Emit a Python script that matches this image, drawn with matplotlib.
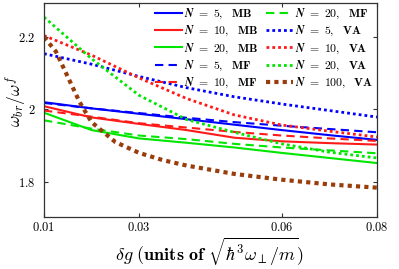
import matplotlib
matplotlib.use("Agg")
import matplotlib.pyplot as plt
import numpy as np

plt.rcParams['mathtext.fontset'] = 'cm'
plt.rcParams['font.family'] = 'DejaVu Serif'

x = [0.01, 0.02, 0.03, 0.04, 0.05, 0.06, 0.07, 0.08]
x_fine = [0.01, 0.0125, 0.015, 0.0175, 0.02, 0.025, 0.03, 0.035, 0.04, 0.05, 0.06, 0.07, 0.08]

mb5 = [2.020, 2.003, 1.988, 1.973, 1.958, 1.943, 1.929, 1.916]
mb10 = [2.009, 1.978, 1.960, 1.943, 1.922, 1.912, 1.907, 1.903]
mb20 = [1.991, 1.943, 1.920, 1.908, 1.895, 1.880, 1.866, 1.852]
mf5 = [2.018, 2.003, 1.990, 1.977, 1.965, 1.955, 1.946, 1.937]
mf10 = [1.997, 1.980, 1.962, 1.950, 1.938, 1.928, 1.920, 1.913]
mf20 = [1.970, 1.947, 1.928, 1.918, 1.905, 1.895, 1.887, 1.879]
va5 = [2.154, 2.125, 2.091, 2.060, 2.035, 2.015, 1.997, 1.979]
va10 = [2.204, 2.150, 2.087, 2.030, 1.985, 1.957, 1.940, 1.924]
va20 = [2.255, 2.140, 2.039, 1.972, 1.937, 1.905, 1.882, 1.866]
va100 = [2.200, 2.160, 2.090, 2.020, 1.965, 1.910, 1.880, 1.860, 1.845, 1.822, 1.806, 1.793, 1.784]

xticks = [0.01, 0.03, 0.06, 0.08]
yticks = [1.8, 2.0, 2.2]
xtick_labels = ['0.01', '0.03', '0.06', '0.08']
ytick_labels = ['1.8', '2', '2.2']

blue = '#0000ff'
red = '#ff1a1a'
green = '#00e600'
brown = '#9a3d0c'

W, H = 399, 269
fig = plt.figure(figsize=(W/100, H/100), dpi=100)
ax = fig.add_axes([44/W, 1-217/H, (377-44)/W, (217-3)/H])

def lab(n, kind):
    return r'$\mathbfit{N}\ \mathbf{=}\ \mathbf{%s,\ \ %s}$' % (n, kind)

lw = 1.5
ax.plot(x, mb5, color=blue, lw=lw, label=lab(5, 'MB'))
ax.plot(x, mb10, color=red, lw=lw, label=lab(10, 'MB'))
ax.plot(x, mb20, color=green, lw=lw, label=lab(20, 'MB'))
ax.plot(x, mf5, color=blue, lw=lw, ls=(0, (4, 2.5)), label=lab(5, 'MF'))
ax.plot(x, mf10, color=red, lw=lw, ls=(0, (4, 2.5)), label=lab(10, 'MF'))
ax.plot(x, mf20, color=green, lw=lw, ls=(0, (4, 2.5)), label=lab(20, 'MF'))
dlw = 2.0
ax.plot(x, va5, color=blue, lw=dlw, ls=(0, (1, 1.1)), label=lab(5, 'VA'))
ax.plot(x, va10, color=red, lw=dlw, ls=(0, (1, 1.1)), label=lab(10, 'VA'))
ax.plot(x, va20, color=green, lw=dlw, ls=(0, (1, 1.1)), label=lab(20, 'VA'))
ax.plot(x_fine, va100, color=brown, lw=3.0, ls=(0, (1, 1)), label=lab(100, 'VA'))

ax.set_xlim(0.01, 0.08)
ax.set_ylim(1.703, 2.294)
ax.set_xticks(xticks)
ax.set_xticklabels([r'$\mathbf{%s}$' % t for t in xtick_labels], fontsize=9)
ax.set_yticks(yticks)
ax.set_yticklabels([r'$\mathbf{%s}$' % t for t in ytick_labels], fontsize=9)
ax.tick_params(direction='in', top=True, right=True, length=3, width=0.8, color='#333333')
ax.tick_params(axis='x', pad=3)
ax.tick_params(axis='y', pad=6)
for s in ax.spines.values():
    s.set_color('#333333')
    s.set_linewidth(0.9)

fig.text(16/W, 1-101/H, r'$\omega_{br}/\omega^f$', fontsize=12.5, rotation=90,
         ha='center', va='center')
fig.text(210/W, 1-252/H, r'$\delta g\ \mathbf{(units\ of}\ \sqrt{\hbar^3\omega_\perp/m})$',
         fontsize=13, ha='center', va='center')

leg = ax.legend(ncol=2, loc='upper right', bbox_to_anchor=(1.0, 1.0), frameon=False,
                fontsize=8.5, handlelength=2.3, handletextpad=0.2, columnspacing=0.6,
                labelspacing=0.25, borderaxespad=0.1, borderpad=0.2)

fig.savefig('out.png', dpi=100)
